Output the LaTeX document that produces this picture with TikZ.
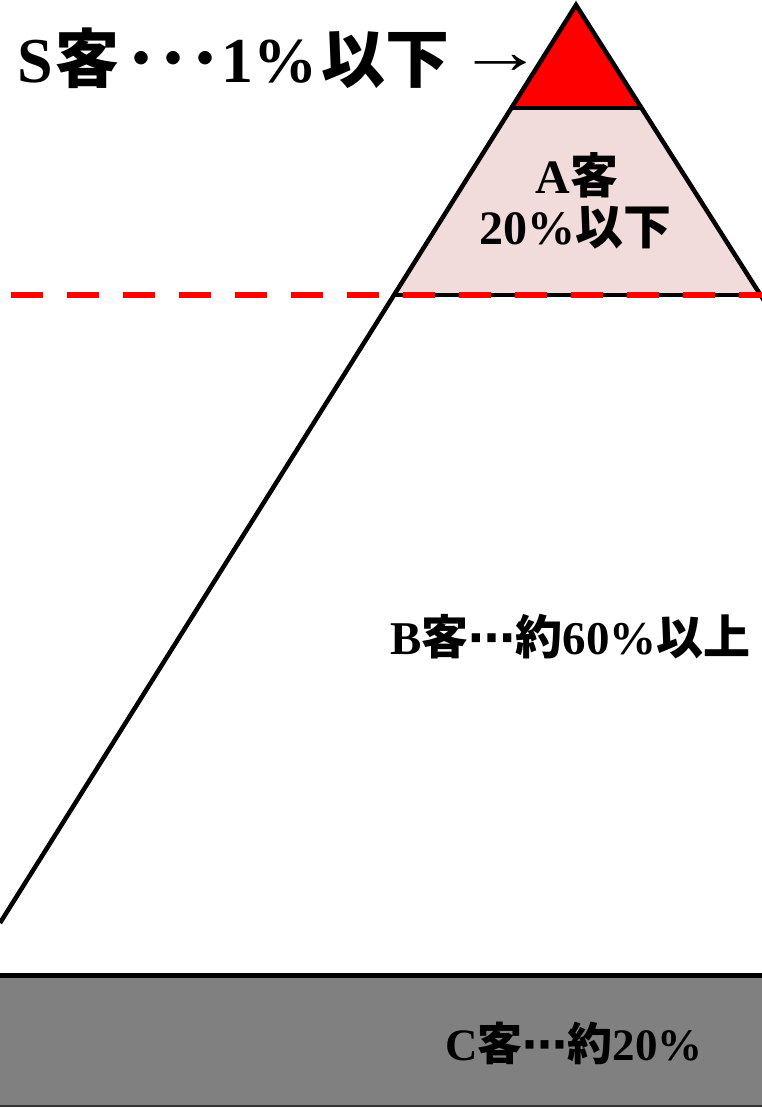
\documentclass[tikz,border=0pt]{standalone}
\usepackage{fontspec}
\setmainfont{Liberation Serif}
\newfontfamily\cjk{Noto Sans CJK JP}
\newfontfamily\dvs{DejaVu Sans}
\definecolor{pinkA}{HTML}{F2DCDB}
\definecolor{grayC}{HTML}{808080}
\newcommand{\mdots}{{\dvs ⋯}}
\begin{document}
\begin{tikzpicture}[x=1pt,y=-1pt,
  edge/.style={line width=4.5pt,black},
  lbl/.style={font=\bfseries, inner sep=0pt, anchor=center}]
\useasboundingbox (0,0) rectangle (762,1108);
\clip (0,0) rectangle (762,1108);
% coordinates
\coordinate (apex) at (576,5);
\coordinate (sl) at (511,108);
\coordinate (sr) at (641,108);
\coordinate (al) at (394,295);
\coordinate (ar) at (758,295);
\coordinate (bl) at (0,923);
\coordinate (br) at (1160,923);
% fills
\fill[red] (apex) -- (sl) -- (sr) -- cycle;
\fill[pinkA] (sl) -- (al) -- (ar) -- (sr) -- cycle;
% gray base
\fill[grayC] (-5,977) rectangle (767,1106);
\draw[line width=5pt] (-5,975) -- (767,975);
\draw[line width=1.5pt,black!80] (-5,1106) -- (767,1106);
% edges
\draw[edge] (bl) -- (apex) -- (br);
\draw[edge] (sl) -- (sr);
\draw[edge] (al) -- (800,295);
% dashed line
\draw[red,line width=6pt,dash pattern=on 32pt off 24pt] (11,295) -- (770,295);
% labels
\node[lbl,font=\bfseries\fontsize{64}{64}\selectfont,anchor=west] (s) at (17,58)
  {S\hspace{3pt}{\cjk 客\hspace{6pt}･･･}1\%\hspace{4pt}{\cjk 以下}\hspace{8pt}\raisebox{9pt}{\mdseries\scalebox{1.35}[1]{→}}};
\node[lbl,font=\bfseries\fontsize{48}{48}\selectfont] (a1) at (577,175) {A{\cjk 客}};
\node[lbl,font=\bfseries\fontsize{48}{48}\selectfont] (a2) at (575,228) {20\%{\cjk 以下}};
\node[lbl,font=\bfseries\fontsize{47}{47}\selectfont,anchor=west] (b) at (390,637) {B{\cjk 客}\mdots{\cjk 約}60\%{\cjk 以上}};
\node[lbl,font=\bfseries\fontsize{45}{45}\selectfont] (c) at (574,1043) {C{\cjk 客}\mdots{\cjk 約}20\%};
\end{tikzpicture}
\end{document}
